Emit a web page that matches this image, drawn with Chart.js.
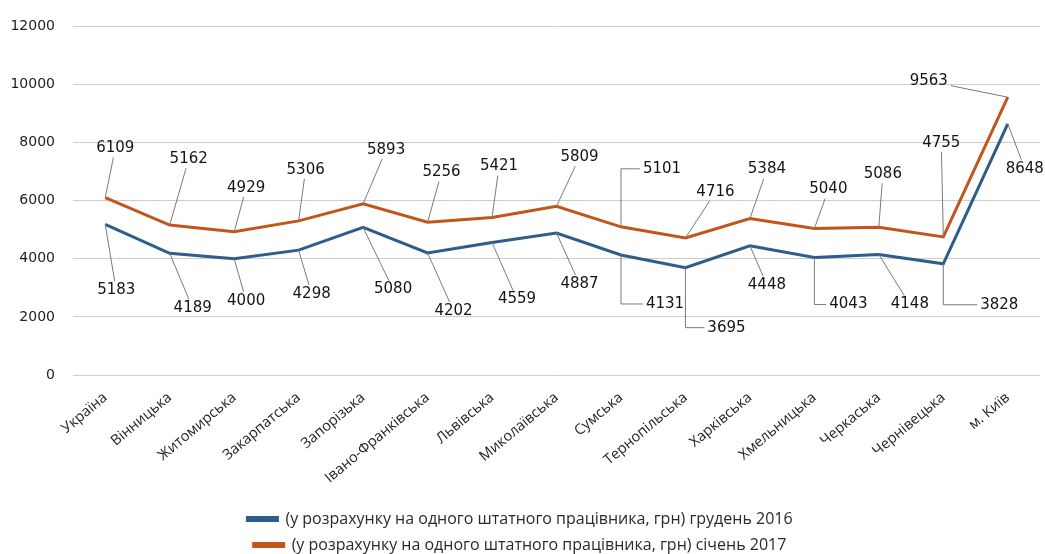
<!DOCTYPE html>
<html>
<head>
<meta charset="utf-8">
<script src="https://cdn.jsdelivr.net/npm/chart.js@4.4.0/dist/chart.umd.min.js"></script>
<style>
  html, body { margin: 0; padding: 0; background: #fff; }
</style>
</head>
<body>
<canvas id="chart" width="1045" height="554"></canvas>
<script>
const regions = [
  'Україна', 'Вінницька', 'Житомирська', 'Закарпатська', 'Запорізька',
  'Івано-Франківська', 'Львівська', 'Миколаївська', 'Сумська', 'Тернопільська',
  'Харківська', 'Хмельницька', 'Черкаська', 'Чернівецька', 'м. Київ'
];
const dec2016 = [5183, 4189, 4000, 4298, 5080, 4202, 4559, 4887, 4131, 3695, 4448, 4043, 4148, 3828, 8648];
const jan2017 = [6109, 5162, 4929, 5306, 5893, 5256, 5421, 5809, 5101, 4716, 5384, 5040, 5086, 4755, 9563];
const seriesNames = [
  '(у розрахунку на одного штатного працівника, грн) грудень 2016',
  '(у розрахунку на одного штатного працівника, грн) січень 2017'
];
const yTickStep = 2000;
const yMax = 12000;

// where each value label sits relative to its point, px
const dec2016LabelShift = [
  [11, 66], [23, 55], [12, 42], [13, 44], [30, 62], [26, 58], [25, 57], [23, 51],
  [44, 49], [41, 60], [17, 39], [34, 47], [31, 50], [56, 41], [17, 45]
];
const jan2017LabelShift = [
  [10, -49], [19, -66], [12, -44], [7, -51], [23, -54], [14, -50], [7, -51], [23, -49],
  [41, -58], [30, -46], [17, -49], [14, -39], [4, -53], [-2, -94], [-79, -16]
];
const labelShift = [dec2016LabelShift, jan2017LabelShift];
// labels whose leader goes straight down/up and then sideways
const elbowLeaders = [[8, 9, 11, 13], [8]];

const bottomPad = -9;

const leaderLabels = {
  id: 'leaderLabels',
  afterDatasetsDraw(chart) {
    const { ctx } = chart;
    ctx.save();
    ctx.font = '15px "DejaVu Sans"';
    ctx.textAlign = 'center';
    ctx.textBaseline = 'middle';
    chart.data.datasets.forEach((ds, di) => {
      chart.getDatasetMeta(di).data.forEach((pt, i) => {
        const [dx, dy] = labelShift[di][i];
        const cx = pt.x + dx;
        const cy = pt.y + dy;
        const text = String(ds.data[i]);
        const hw = ctx.measureText(text).width / 2 + 3;
        const hh = 9;
        ctx.strokeStyle = '#7a7a7a';
        ctx.lineWidth = 1;
        ctx.beginPath();
        if (elbowLeaders[di].includes(i)) {
          ctx.moveTo(pt.x, pt.y);
          ctx.lineTo(pt.x, cy);
          ctx.lineTo(cx - hw, cy);
        } else {
          const vx = pt.x - cx;
          const vy = pt.y - cy;
          const s = Math.min(vx ? hw / Math.abs(vx) : Infinity, vy ? hh / Math.abs(vy) : Infinity);
          ctx.moveTo(pt.x, pt.y);
          ctx.lineTo(cx + vx * s, cy + vy * s);
        }
        ctx.stroke();
        ctx.fillStyle = '#141414';
        ctx.fillText(text, cx, cy);
      });
    });
    ctx.restore();
  }
};

new Chart(document.getElementById('chart'), {
  type: 'line',
  data: {
    labels: regions,
    datasets: [
      {
        label: seriesNames[0],
        data: dec2016,
        borderColor: '#2c5d8b',
        backgroundColor: '#2c5d8b',
        borderWidth: 3,
        pointRadius: 0,
        tension: 0
      },
      {
        label: seriesNames[1],
        data: jan2017,
        borderColor: '#c1561b',
        backgroundColor: '#c1561b',
        borderWidth: 3,
        pointRadius: 0,
        tension: 0
      }
    ]
  },
  options: {
    responsive: false,
    animation: false,
    layout: { padding: { top: 23, right: 5, left: 0, bottom: bottomPad } },
    plugins: {
      tooltip: { enabled: false },
      legend: {
        position: 'bottom',
        labels: {
          boxWidth: 30,
          boxHeight: 3,
          padding: 10,
          color: '#2a2a2a',
          font: { family: '"Open Sans"', size: 16 }
        }
      }
    },
    scales: {
      y: {
        min: 0,
        max: yMax,
        afterFit: (s) => { s.width = 73; },
        ticks: {
          stepSize: yTickStep,
          padding: 18,
          color: '#1e1e1e',
          font: { family: '"DejaVu Sans"', size: 14 },
          callback: (v) => String(v)
        },
        grid: { color: '#cccccc', drawTicks: false },
        border: { display: false }
      },
      x: {
        offset: true,
        afterFit: (s) => { s.height = 554 - 375 - s.chart.legend.height - bottomPad; },
        ticks: {
          minRotation: 40,
          maxRotation: 40,
          padding: 14,
          color: '#1e1e1e',
          font: { family: '"Open Sans"', size: 14.5 }
        },
        grid: { display: false, drawTicks: false },
        border: { display: false }
      }
    }
  },
  plugins: [leaderLabels]
});
</script>
</body>
</html>
